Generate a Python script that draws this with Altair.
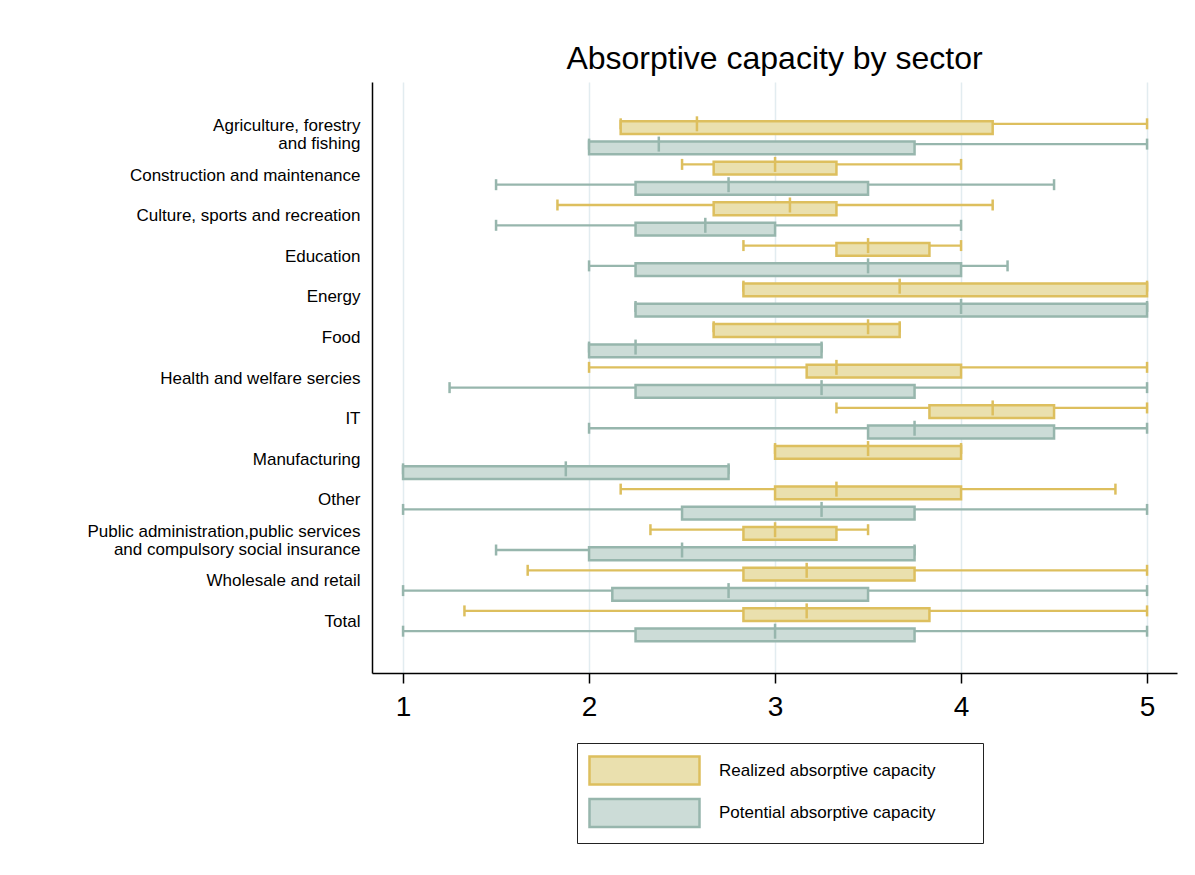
import altair as alt
import pandas as pd

sectors = [
    "Agriculture, forestry|and fishing",
    "Construction and maintenance",
    "Culture, sports and recreation",
    "Education",
    "Energy",
    "Food",
    "Health and welfare sercies",
    "IT",
    "Manufacturing",
    "Other",
    "Public administration,public services |and compulsory social insurance",
    "Wholesale and retail",
    "Total",
]
series = ["Realized absorptive capacity", "Potential absorptive capacity"]
series_codes = ["R", "P"]

# Realized absorptive capacity
realized_min = [2.17, 2.5, 1.83, 2.83, 2.83, 2.67, 2.0, 3.33, 3.0, 2.17, 2.33, 1.67, 1.33]
realized_q1 = [2.17, 2.67, 2.67, 3.33, 2.83, 2.67, 3.17, 3.83, 3.0, 3.0, 2.83, 2.83, 2.83]
realized_med = [2.58, 3.0, 3.08, 3.5, 3.67, 3.5, 3.33, 4.17, 3.5, 3.33, 3.0, 3.17, 3.17]
realized_q3 = [4.17, 3.33, 3.33, 3.83, 5.0, 3.67, 4.0, 4.5, 4.0, 4.0, 3.33, 3.75, 3.83]
realized_max = [5.0, 4.0, 4.17, 4.0, 5.0, 3.67, 5.0, 5.0, 4.0, 4.83, 3.5, 5.0, 5.0]

# Potential absorptive capacity
potential_min = [2.0, 1.5, 1.5, 2.0, 2.25, 2.0, 1.25, 2.0, 1.0, 1.0, 1.5, 1.0, 1.0]
potential_q1 = [2.0, 2.25, 2.25, 2.25, 2.25, 2.0, 2.25, 3.5, 1.0, 2.5, 2.0, 2.125, 2.25]
potential_med = [2.375, 2.75, 2.625, 3.5, 4.0, 2.25, 3.25, 3.75, 1.875, 3.25, 2.5, 2.75, 3.0]
potential_q3 = [3.75, 3.5, 3.0, 4.0, 5.0, 3.25, 3.75, 4.5, 2.75, 3.75, 3.75, 3.5, 3.75]
potential_max = [5.0, 4.5, 4.0, 4.25, 5.0, 3.25, 5.0, 5.0, 2.75, 5.0, 3.75, 5.0, 5.0]

fill_colors = ["#EAE0AE", "#CCDCD7"]
stroke_colors = ["#DDBF5E", "#97B6AD"]

rows = []
for i, s in enumerate(sectors):
    rows.append(dict(sector=s, series=series[0], code=series_codes[0], mn=realized_min[i],
                     q1=realized_q1[i], med=realized_med[i], q3=realized_q3[i], mx=realized_max[i]))
    rows.append(dict(sector=s, series=series[1], code=series_codes[1], mn=potential_min[i],
                     q1=potential_q1[i], med=potential_med[i], q3=potential_q3[i], mx=potential_max[i]))
df = pd.DataFrame(rows)

FONT = "Liberation Sans"
BLANK = "\u2800"
xscale = alt.Scale(domain=[0.833, 5.161], nice=False, zero=False)

base = alt.Chart(df).encode(
    y=alt.Y(
        "sector:N",
        sort=sectors,
        scale=alt.Scale(paddingInner=0, paddingOuter=0.78),
        axis=alt.Axis(
            title=None, ticks=False, grid=False,
            labelExpr="split(datum.label, '|')",
            labelFontSize=17, labelLineHeight=18, labelPadding=12, labelLimit=400,
            labelOffset={"condition": {"test": "indexof(datum.value, '|') >= 0", "value": -8},
                         "value": 1},
            labelColor="black", labelFont=FONT,
            domainColor="black", domainWidth=1.5,
        ),
    ),
    yOffset=alt.YOffset("series:N", sort=series, scale=alt.Scale(paddingInner=0, paddingOuter=0)),
)

line_color = alt.Color("code:N", sort=series_codes,
                       scale=alt.Scale(domain=series_codes, range=stroke_colors), legend=None)

whisker = base.mark_rule(strokeWidth=2.3, opacity=1).encode(
    x=alt.X("mn:Q", scale=xscale,
            axis=alt.Axis(values=[1, 2, 3, 4, 5], format="d", title=None,
                          labelFontSize=28, labelFont=FONT, labelColor="black",
                          tickSize=10, tickColor="black", tickWidth=1.5,
                          domainColor="black", domainWidth=1.5, labelPadding=10,
                          grid=True, gridColor="#E2ECF0", gridWidth=1.5)),
    x2="mx:Q",
    color=line_color,
)
cap_min = base.mark_tick(size=11, thickness=2.5, opacity=1).encode(x="mn:Q", color=line_color)
cap_max = base.mark_tick(size=11, thickness=2.5, opacity=1).encode(x="mx:Q", color=line_color)

legend_label_expr = "datum.label + '" + BLANK * 3 + "'"

box = base.mark_bar(height={"band": 0.63}, strokeWidth=2.5, opacity=1).encode(
    x="q1:Q",
    x2="q3:Q",
    fill=alt.Fill("series:N", sort=series, scale=alt.Scale(domain=series, range=fill_colors),
                  legend=alt.Legend(title=None, labelExpr=legend_label_expr)),
    stroke=alt.Stroke("series:N", sort=series, scale=alt.Scale(domain=series, range=stroke_colors),
                      legend=alt.Legend(title=None, labelExpr=legend_label_expr)),
)
median = base.mark_tick(size=15, thickness=2.5, opacity=1).encode(x="med:Q", color=line_color)

chart = alt.layer(whisker, cap_min, cap_max, box, median).properties(
    width=805,
    height=591,
    title=alt.TitleParams("Absorptive capacity by sector", fontSize=32, fontWeight="normal",
                          font=FONT, anchor="middle", offset=6, color="black"),
    autosize=alt.AutoSizeParams(type="none"),
    padding={"left": 364, "top": 74, "right": 10, "bottom": 190},
).configure_view(stroke=None).configure_legend(
    orient="none", legendX=205, legendY=661,
    symbolType="M-3.667,-0.933H3.667V0.933H-3.667Z", symbolSize=900, symbolStrokeWidth=2.5,
    symbolOffset=40,
    labelFontSize=17, labelFont=FONT, labelColor="black", labelOffset=58, labelLimit=500,
    rowPadding=3.5, padding=11, strokeColor="#222222", symbolOpacity=1,
)

chart.save("out.html", embed_options={"renderer": "svg", "actions": False})
